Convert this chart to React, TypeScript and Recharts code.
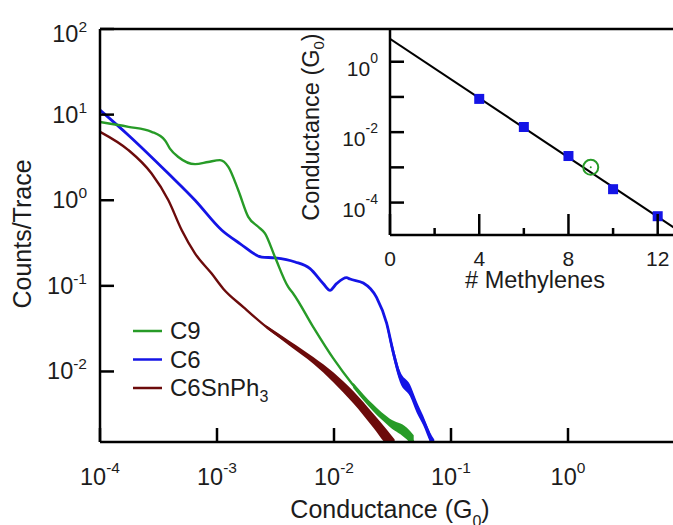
import {
  ComposedChart, Line, Area, Scatter, XAxis, YAxis, ReferenceLine, Legend, Label,
} from 'recharts'

const FONT = '"Liberation Sans", Arial, Helvetica, sans-serif'
const INK = '#1c1c1c'
const AXIS = { stroke: '#000', strokeWidth: 2.5 }

const SERIES_LABELS = [
  { text: 'C9', sub: '' },
  { text: 'C6', sub: '' },
  { text: 'C6SnPh', sub: '3' },
]
const SERIES_COLORS = ['#279b27', '#1414e6', '#6c0b0b']

// 1D histograms: conductance (G0) vs counts/trace
const C9_TRACE = [
  { g: 1.0e-4, c: 8.2 }, { g: 1.75e-4, c: 7.2 }, { g: 2.76e-4, c: 6.3 },
  { g: 3.6e-4, c: 5.0 }, { g: 3.96e-4, c: 4.0 }, { g: 4.67e-4, c: 3.2 },
  { g: 6.5e-4, c: 2.64 }, { g: 8.4e-4, c: 2.8 }, { g: 1.06e-3, c: 2.94 },
  { g: 1.25e-3, c: 2.45 }, { g: 1.52e-3, c: 1.31 }, { g: 1.85e-3, c: 0.64 },
  { g: 2.25e-3, c: 0.49 }, { g: 2.57e-3, c: 0.41 }, { g: 3.13e-3, c: 0.217 },
  { g: 4.06e-3, c: 0.097 }, { g: 4.49e-3, c: 0.081 }, { g: 6.65e-3, c: 0.033 },
  { g: 9.86e-3, c: 0.0142 }, { g: 1.46e-2, c: 6.9e-3 }, { g: 2.17e-2, c: 3.7e-3 },
  { g: 3.0e-2, c: 2.5e-3 }, { g: 4.2e-2, c: 1.85e-3 }, { g: 4.8e-2, c: 1.5e-3 },
  { g: 5.5e-2, c: 1.3e-3 },
]

const C6_TRACE = [
  { g: 1.0e-4, c: 11.3 }, { g: 1.75e-4, c: 5.75 }, { g: 3.84e-4, c: 2.05 },
  { g: 6.49e-4, c: 1.0 }, { g: 1.1e-3, c: 0.446 }, { g: 1.57e-3, c: 0.312 },
  { g: 2.41e-3, c: 0.217 }, { g: 3.13e-3, c: 0.212 }, { g: 4.65e-3, c: 0.19 },
  { g: 6.24e-3, c: 0.159 }, { g: 8.11e-3, c: 0.106 }, { g: 9.25e-3, c: 0.0886 },
  { g: 1.05e-2, c: 0.106 }, { g: 1.28e-2, c: 0.125 }, { g: 1.37e-2, c: 0.12 },
  { g: 1.78e-2, c: 0.108 }, { g: 2.31e-2, c: 0.0733 }, { g: 2.82e-2, c: 0.0364 },
  { g: 3.21e-2, c: 0.0167 }, { g: 3.66e-2, c: 8.75e-3 }, { g: 4.47e-2, c: 6.0e-3 },
  { g: 5.09e-2, c: 3.83e-3 }, { g: 5.78e-2, c: 2.67e-3 }, { g: 6.62e-2, c: 1.71e-3 },
  { g: 7.0e-2, c: 1.3e-3 },
]

const C6SNPH3_TRACE = [
  { g: 1.0e-4, c: 6.3 }, { g: 1.75e-4, c: 3.85 }, { g: 2.76e-4, c: 2.05 },
  { g: 3.84e-4, c: 1.0 }, { g: 5.0e-4, c: 0.446 }, { g: 6.5e-4, c: 0.238 },
  { g: 9.0e-4, c: 0.139 }, { g: 1.13e-3, c: 0.0927 }, { g: 1.68e-3, c: 0.0565 },
  { g: 2.65e-3, c: 0.033 }, { g: 4.21e-3, c: 0.0211 }, { g: 6.65e-3, c: 0.0135 },
  { g: 9.86e-3, c: 8.6e-3 }, { g: 1.46e-2, c: 5.0e-3 }, { g: 2.17e-2, c: 2.67e-3 },
  { g: 2.82e-2, c: 1.71e-3 }, { g: 3.2e-2, c: 1.3e-3 },
]

// noise envelopes (low, high) at the tails
const C9_NOISE = [
  { g: 1.46e-2, band: [6.4e-3, 7.4e-3] }, { g: 2.17e-2, band: [3.4e-3, 4.1e-3] },
  { g: 3.0e-2, band: [2.25e-3, 2.8e-3] }, { g: 4.2e-2, band: [1.6e-3, 2.2e-3] },
  { g: 4.8e-2, band: [1.3e-3, 1.8e-3] },
]
const C6_NOISE = [
  { g: 2.82e-2, band: [0.033, 0.04] }, { g: 3.21e-2, band: [0.0143, 0.0195] },
  { g: 3.66e-2, band: [7.5e-3, 1.02e-2] }, { g: 4.47e-2, band: [5.1e-3, 7.0e-3] },
  { g: 5.09e-2, band: [3.3e-3, 4.5e-3] }, { g: 5.78e-2, band: [2.35e-3, 3.05e-3] },
  { g: 6.62e-2, band: [1.5e-3, 1.95e-3] }, { g: 7.2e-2, band: [1.2e-3, 1.6e-3] },
]
const C6SNPH3_NOISE = [
  { g: 2.65e-3, band: [0.0317, 0.0344] }, { g: 4.21e-3, band: [0.0197, 0.0226] },
  { g: 6.65e-3, band: [0.0123, 0.0148] }, { g: 9.86e-3, band: [7.5e-3, 9.8e-3] },
  { g: 1.46e-2, band: [4.25e-3, 5.9e-3] }, { g: 2.17e-2, band: [2.2e-3, 3.2e-3] },
  { g: 2.82e-2, band: [1.4e-3, 2.1e-3] }, { g: 3.3e-2, band: [1.2e-3, 1.6e-3] },
]

const MAIN_X_TICKS = [1e-4, 1e-3, 1e-2, 1e-1, 1]
const MAIN_Y_TICKS = [1e-2, 1e-1, 1, 10, 100]

// inset: conductance vs number of methylenes
const SQUARES = [
  { n: 4, g: 0.088 }, { n: 6, g: 0.014 }, { n: 8, g: 2.1e-3 },
  { n: 10, g: 2.4e-4 }, { n: 12, g: 4.1e-5 },
]
const OPEN_CIRCLE = [{ n: 9, g: 1.0e-3 }]
const FIT_LINE = [{ n: 0, g: 4.5 }, { n: 13, g: 1.5e-5 }]
const INSET_X_TICKS = [0, 2, 4, 6, 8, 10, 12]
const INSET_Y_TICKS = [1e-4, 1e-3, 1e-2, 1e-1, 1]

const expOf = (v: number) => Math.round(Math.log10(v))

function MainXTick({ x, y, payload }: any) {
  return (
    <g>
      <line x1={x} y1={y} x2={x} y2={y - 14} stroke="#000" strokeWidth={2.5} />
      <text x={x} y={y + 43} textAnchor="middle" fontSize={23.5} fontFamily={FONT} fill={INK}>
        10<tspan dy={-12} fontSize={15.5}>{expOf(payload.value)}</tspan>
      </text>
    </g>
  )
}

function MainYTick({ x, y, payload }: any) {
  // the top label sits a little lower, clear of the frame
  const drop = payload.value >= 100 ? 13 : 8
  return (
    <g>
      <line x1={x} y1={y} x2={x + 14} y2={y} stroke="#000" strokeWidth={2.5} />
      <text x={x - 13} y={y + drop} textAnchor="end" fontSize={23.5} fontFamily={FONT} fill={INK}>
        10<tspan dy={-10} fontSize={15.5}>{expOf(payload.value)}</tspan>
      </text>
    </g>
  )
}

function InsetXTick({ x, y, payload }: any) {
  const major = payload.value % 4 === 0
  return (
    <g>
      <line x1={x} y1={y} x2={x} y2={y - (major ? 21 : 7)} stroke="#000" strokeWidth={2.5} />
      {major && (
        <text x={x} y={y + 31} textAnchor="middle" fontSize={21} fontFamily={FONT} fill={INK}>
          {payload.value}
        </text>
      )}
    </g>
  )
}

function InsetYTick({ x, y, payload }: any) {
  const e = expOf(payload.value)
  return (
    <g>
      <line x1={x} y1={y} x2={x + 14} y2={y} stroke="#000" strokeWidth={2.5} />
      {e % 2 === 0 && (
        <text x={x - 12} y={y + 14} textAnchor="end" fontSize={21} fontFamily={FONT} fill={INK}>
          10<tspan dy={-13} fontSize={14}>{e}</tspan>
        </text>
      )}
    </g>
  )
}

const MainXTitle = () => (
  <text x={390} y={518} textAnchor="middle" fontSize={25} fontFamily={FONT} fill={INK}>
    Conductance (G<tspan dy={9} fontSize={16}>0</tspan><tspan dy={-9}>)</tspan>
  </text>
)

const MainYTitle = () => (
  <text x={31} y={234} transform="rotate(-90 31 234)" textAnchor="middle" fontSize={25} fontFamily={FONT} fill={INK}>
    Counts/Trace
  </text>
)

// inset chart sits at page x = 280, so its coordinates are shifted by 280
const InsetXTitle = () => (
  <text x={255} y={288} textAnchor="middle" fontSize={23.5} fontFamily={FONT} fill={INK}>
    # Methylenes
  </text>
)

const InsetYTitle = () => (
  <text x={39} y={127} transform="rotate(-90 39 127)" textAnchor="middle" fontSize={23.5} fontFamily={FONT} fill={INK}>
    Conductance (G<tspan dy={5} fontSize={15}>0</tspan><tspan dy={-5}>)</tspan>
  </text>
)

const SquareMark = ({ cx, cy }: any) => (
  <rect x={cx - 5} y={cy - 5} width={10} height={10} fill="#1414e6" />
)

const CircleMark = ({ cx, cy }: any) => (
  <g>
    <circle cx={cx} cy={cy} r={7.5} fill="none" stroke="#279b27" strokeWidth={2} />
    <circle cx={cx} cy={cy} r={1} fill="#279b27" />
  </g>
)

function LegendBox() {
  return (
    <svg width={200} height={100} style={{ display: 'block', overflow: 'visible' }}>
      {SERIES_LABELS.map((s, i) => {
        const y = 21 + i * 28.5
        return (
          <g key={s.text + i}>
            <line x1={8} x2={37} y1={y} y2={y} stroke={SERIES_COLORS[i]} strokeWidth={2.5} />
            <text x={45} y={y + 8} fontSize={24} fontFamily={FONT} fill={INK}>
              {s.text}
              {s.sub && <tspan dy={6} fontSize={16}>{s.sub}</tspan>}
            </text>
          </g>
        )
      })}
    </svg>
  )
}

export default function App() {
  return (
    <div style={{ position: 'absolute', left: 0, top: 0, width: 673, height: 525, overflow: 'hidden', background: '#fff' }}>
      <ComposedChart width={700} height={525} margin={{ top: 29, right: 15, bottom: 0, left: 0 }}>
        <XAxis
          type="number" dataKey="g" scale="log" domain={[1e-4, 10]} ticks={MAIN_X_TICKS}
          allowDataOverflow interval={0} height={83} axisLine={AXIS} tickLine={false}
          tickSize={0} tickMargin={0} tick={MainXTick}
        >
          <Label content={MainXTitle} />
        </XAxis>
        <YAxis
          type="number" scale="log" domain={[1.5e-3, 100]} ticks={MAIN_Y_TICKS}
          allowDataOverflow interval={0} width={100} axisLine={AXIS} tickLine={false}
          tickSize={0} tickMargin={0} tick={MainYTick}
        >
          <Label content={MainYTitle} />
        </YAxis>
        <ReferenceLine y={100} stroke="#000" strokeWidth={2.5} />

        <Area data={C6SNPH3_NOISE} dataKey="band" type="monotone" stroke="none" fill={SERIES_COLORS[2]} fillOpacity={1} isAnimationActive={false} legendType="none" />
        <Line data={C6SNPH3_TRACE} dataKey="c" type="monotone" stroke={SERIES_COLORS[2]} strokeWidth={2.4} dot={false} isAnimationActive={false} />

        <Area data={C6_NOISE} dataKey="band" type="monotone" stroke="none" fill={SERIES_COLORS[1]} fillOpacity={1} isAnimationActive={false} legendType="none" />
        <Line data={C6_TRACE} dataKey="c" type="monotone" stroke={SERIES_COLORS[1]} strokeWidth={2.8} dot={false} isAnimationActive={false} />

        <Area data={C9_NOISE} dataKey="band" type="monotone" stroke="none" fill={SERIES_COLORS[0]} fillOpacity={1} isAnimationActive={false} legendType="none" />
        <Line data={C9_TRACE} dataKey="c" type="monotone" stroke={SERIES_COLORS[0]} strokeWidth={2.4} dot={false} isAnimationActive={false} />

        <Legend
          layout="vertical" align="center" verticalAlign="middle"
          content={LegendBox}
          wrapperStyle={{ left: 125, top: 310, width: 200, height: 100 }}
        />
      </ComposedChart>

      <div style={{ position: 'absolute', left: 280, top: 0 }}>
        <ComposedChart width={420} height={300} margin={{ top: 29, right: 20, bottom: 0, left: 0 }}>
          <XAxis
            type="number" dataKey="n" domain={[0, 13]} ticks={INSET_X_TICKS} allowDataOverflow
            interval={0} height={65} axisLine={AXIS} tickLine={false} tickSize={0} tickMargin={0}
            tick={InsetXTick}
          >
            <Label content={InsetXTitle} />
          </XAxis>
          <YAxis
            type="number" dataKey="g" scale="log" domain={[1.2e-5, 8.5]} ticks={INSET_Y_TICKS}
            allowDataOverflow interval={0} width={110} axisLine={AXIS} tickLine={false}
            tickSize={0} tickMargin={0} tick={InsetYTick}
          >
            <Label content={InsetYTitle} />
          </YAxis>
          <Line data={FIT_LINE} dataKey="g" stroke="#000" strokeWidth={2} dot={false} isAnimationActive={false} />
          <Scatter data={SQUARES} dataKey="g" shape={SquareMark} isAnimationActive={false} />
          <Scatter data={OPEN_CIRCLE} dataKey="g" shape={CircleMark} isAnimationActive={false} />
        </ComposedChart>
      </div>
    </div>
  )
}
